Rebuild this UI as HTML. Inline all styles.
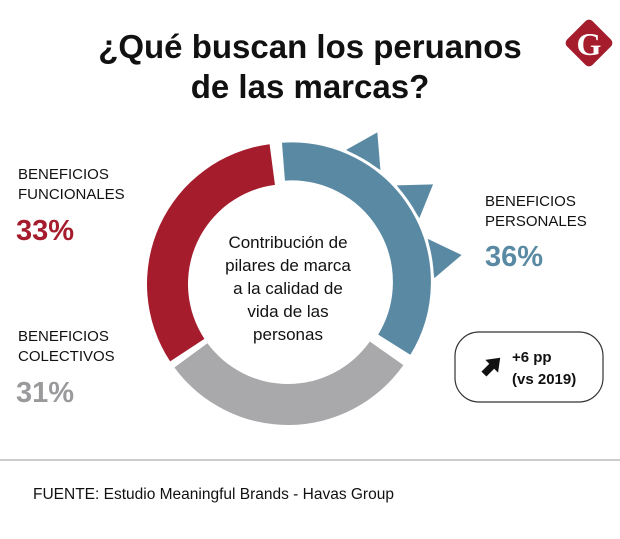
<!DOCTYPE html>
<html><head><meta charset="utf-8">
<style>
body{margin:0;background:#fff;width:620px;height:534px;overflow:hidden;font-family:"Liberation Sans",sans-serif;}
</style></head><body>
<svg width="620" height="534">
<text x="310" y="58" text-anchor="middle" font-size="33" font-weight="bold" fill="#111">¿Qué buscan los peruanos</text>
<text x="310" y="98" text-anchor="middle" font-size="33" font-weight="bold" fill="#111">de las marcas?</text>
<g>
<rect x="571" y="25" width="36" height="36" rx="5" fill="#a51d2d" transform="rotate(45 589 43)"/>
<text x="589" y="55" text-anchor="middle" font-size="32" font-weight="bold" fill="#fff" font-family="Liberation Serif,serif">G</text>
</g>
<g id="spikes"></g>
<g id="donut"></g>
<text x="288" y="248" text-anchor="middle" font-size="17" fill="#111">
<tspan x="288">Contribución de</tspan><tspan x="288" dy="23">pilares de marca</tspan><tspan x="288" dy="23">a la calidad de</tspan><tspan x="288" dy="23">vida de las</tspan><tspan x="288" dy="23">personas</tspan></text>
<g font-size="15" fill="#111">
<text x="18" y="179"><tspan x="18">BENEFICIOS</tspan><tspan x="18" dy="20">FUNCIONALES</tspan></text>
<text x="18" y="341"><tspan x="18">BENEFICIOS</tspan><tspan x="18" dy="20">COLECTIVOS</tspan></text>
<text x="485" y="206"><tspan x="485">BENEFICIOS</tspan><tspan x="485" dy="20">PERSONALES</tspan></text>
</g>
<text id="p0" x="485" y="266" font-size="29" font-weight="bold" fill="#5a8aa3"></text>
<text id="p1" x="16" y="402" font-size="29" font-weight="bold" fill="#9a9a9d"></text>
<text id="p2" x="16" y="240" font-size="29" font-weight="bold" fill="#a51d2d"></text>
<g>
<rect x="455" y="332" width="148" height="70" rx="24" fill="#fff" stroke="#333" stroke-width="1.2"/>
<g transform="translate(491 367) rotate(-45)"><rect x="-10" y="-3.5" width="12" height="7" fill="#111"/><polygon points="1,-9 13,0 1,9" fill="#111"/></g>
<text x="512" y="362" font-size="15" font-weight="bold" fill="#111">+6 pp</text>
<text x="512" y="384" font-size="15" font-weight="bold" fill="#111">(vs 2019)</text>
</g>
<line x1="0" y1="460" x2="620" y2="460" stroke="#999" stroke-width="1"/>
<text x="33" y="499" font-size="15.5" fill="#111">FUENTE: Estudio Meaningful Brands - Havas Group</text>
</svg>
<script>
const categories=["Beneficios personales","Beneficios colectivos","Beneficios funcionales"];
const values=[36,31,33];
const colors=["#5a8aa3","#a9a9ac","#a51d2d"];
const ns="http://www.w3.org/2000/svg";
const g=document.getElementById('donut');
const sg=document.getElementById('spikes');
const cx=288,cy=284,R=141,r=100,gap=3,startDeg=-6;
const total=values.reduce((a,b)=>a+b,0);
function pt(a,rad,ox,oy){const t=(a-90)*Math.PI/180;return[cx+ox+rad*Math.cos(t),cy+oy+rad*Math.sin(t)];}
let a=startDeg;
values.forEach((v,i)=>{
  const sweep=v/total*360;
  const a0=a+gap/2,a1=a+sweep-gap/2;
  const mid=(a0+a1)/2*Math.PI/180;
  const off=i===0?4:0;
  const ox=off*Math.sin(mid),oy=-off*Math.cos(mid);
  const lg=(a1-a0)>180?1:0;
  const p1=pt(a0,R,ox,oy),p2=pt(a1,R,ox,oy),p3=pt(a1,r,ox,oy),p4=pt(a0,r,ox,oy);
  const p=document.createElementNS(ns,'path');
  p.setAttribute('d',`M${p1}A${R},${R} 0 ${lg} 1 ${p2}L${p3}A${r},${r} 0 ${lg} 0 ${p4}Z`);
  p.setAttribute('fill',colors[i]);
  p.setAttribute('stroke','#fff');
  p.setAttribute('stroke-width',i===0?'3':'0');
  
  
  g.appendChild(p);
  if(i===0){
    [35,60,85].forEach(s=>{
      const c=a0+s;
      const pts=[pt(c-8,R+2,ox,oy),pt(c,176,0,0),pt(c+8,R+2,ox,oy)];
      const t=document.createElementNS(ns,'polygon');
      t.setAttribute('points',pts.map(q=>q.join(',')).join(' '));
      t.setAttribute('fill',colors[0]);
      
      
      sg.appendChild(t);
    });
  }
  document.getElementById('p'+i).textContent=v+'%';
  a+=sweep;
});
</script>
</body></html>
